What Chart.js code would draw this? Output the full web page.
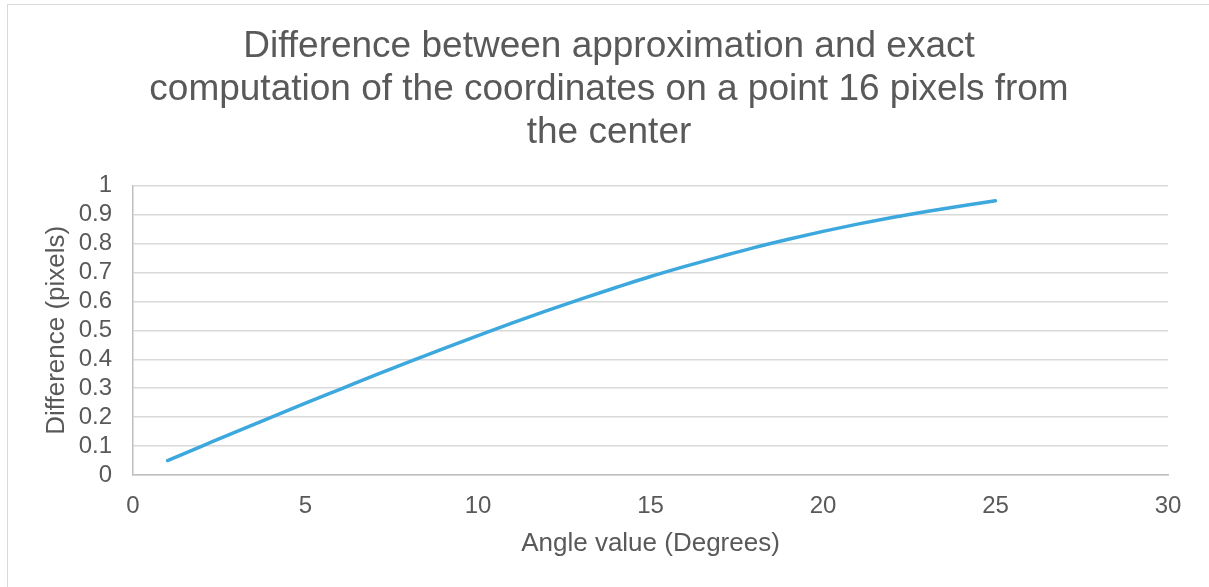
<!DOCTYPE html>
<html>
<head>
<meta charset="utf-8">
<script src="https://cdn.jsdelivr.net/npm/chart.js@4"></script>
<style>
  html, body { margin: 0; padding: 0; background: #fff; overflow: hidden; }
  #frame { position: absolute; left: 7px; top: 4px; width: 1300px; height: 700px; border: 1px solid #d9d9d9; }
  #wrap { position: absolute; left: 0; top: 0; width: 1209px; height: 587px; }
</style>
</head>
<body>
<div id="frame"></div>
<div id="wrap"><canvas id="chart"></canvas></div>
<script>
const angles = [1, 2, 3, 4, 5, 6, 7, 8, 9, 10, 11, 12, 13, 14, 15, 16, 17, 18, 19, 20, 21, 22, 23, 24, 25];
const differences = [0.050, 0.100, 0.150, 0.199, 0.248, 0.296, 0.344, 0.391, 0.437, 0.482, 0.526, 0.568, 0.609,
                     0.648, 0.686, 0.721, 0.754, 0.786, 0.815, 0.842, 0.867, 0.890, 0.911, 0.930, 0.948];
const xTickLabels = ['0', '5', '10', '15', '20', '25', '30'];
const yTickLabels = ['0', '0.1', '0.2', '0.3', '0.4', '0.5', '0.6', '0.7', '0.8', '0.9', '1'];

const textColor = '#595959';
const fontFamily = "'Liberation Sans', Arial, sans-serif";

const ctx = document.getElementById('chart').getContext('2d');
const chart = new Chart(ctx, {
  type: 'scatter',
  data: {
    datasets: [{
      label: 'Difference',
      data: angles.map((a, i) => ({ x: a, y: differences[i] })),
      showLine: true,
      borderColor: 'rgb(60, 168, 222)',
      borderWidth: 3.5,
      borderCapStyle: 'round',
      pointRadius: 0,
      cubicInterpolationMode: 'monotone',
      fill: false
    }]
  },
  options: {
    responsive: true,
    maintainAspectRatio: false,
    animation: false,
    // title box spans 9..1209 so its centre sits near x=609 like the original
    layout: { padding: { left: 9, right: 0, top: 0, bottom: 0 } },
    plugins: {
      legend: { display: false },
      tooltip: { enabled: false },
      title: {
        display: true,
        text: ['Difference between approximation and exact',
               'computation of the coordinates on a point 16 pixels from',
               'the center'],
        color: textColor,
        font: { family: fontFamily, size: 37, weight: 'normal', lineHeight: 1.15 },
        padding: { top: 26, bottom: 32 }
      }
    },
    scales: {
      x: {
        type: 'linear',
        min: 0,
        max: 30,
        afterFit: s => { s.height = 112; },
        ticks: {
          stepSize: 5,
          padding: 17,
          color: textColor,
          font: { family: fontFamily, size: 24 },
          callback: (v, i) => xTickLabels[i]
        },
        grid: { display: false, drawTicks: false },
        border: { display: true, color: '#bfbfbf', width: 1.5 },
        title: {
          display: true,
          text: 'Angle value (Degrees)',
          color: textColor,
          font: { family: fontFamily, size: 26 },
          padding: { top: 0, bottom: 28 }
        }
      },
      y: {
        min: 0,
        max: 1,
        afterFit: s => { s.width = 124; },
        ticks: {
          stepSize: 0.1,
          autoSkip: false,
          padding: 21,
          color: textColor,
          font: { family: fontFamily, size: 24 },
          callback: (v, i) => yTickLabels[i]
        },
        grid: { color: '#d9d9d9', lineWidth: 1.5, drawTicks: false },
        border: { display: true, color: '#bfbfbf', width: 1.5 },
        title: {
          display: true,
          text: 'Difference (pixels)',
          color: textColor,
          font: { family: fontFamily, size: 26 },
          padding: { top: 32, bottom: 0 }
        }
      },
      // empty right-hand spacer so the plot ends at x=1168
      spacer: {
        type: 'linear',
        position: 'right',
        display: true,
        afterFit: s => { s.width = 41; },
        ticks: { display: false },
        grid: { display: false, drawTicks: false },
        border: { display: false }
      }
    }
  }
});
</script>
</body>
</html>
